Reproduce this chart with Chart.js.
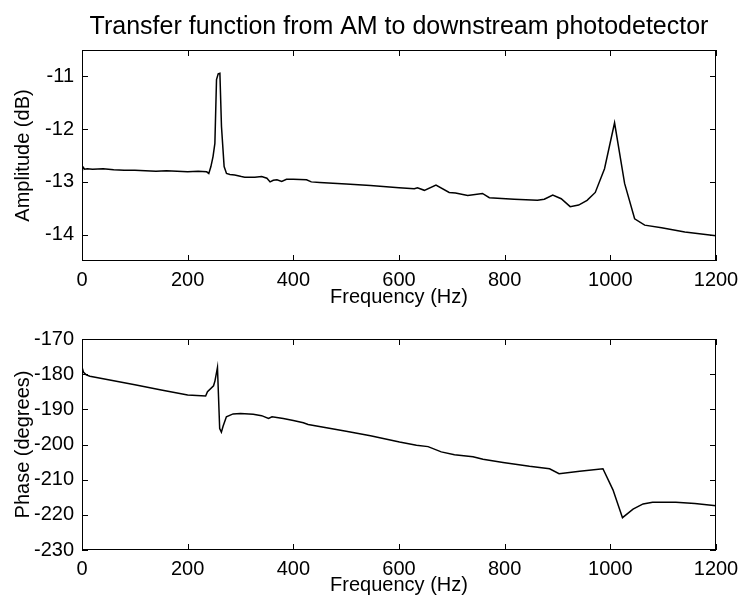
<!DOCTYPE html>
<html>
<head>
<meta charset="utf-8">
<script src="https://cdn.jsdelivr.net/npm/chart.js@4.4.1/dist/chart.umd.min.js"></script>
<style>
  html, body { margin: 0; padding: 0; background: #fff; }
  canvas { position: absolute; left: 0; }
  #ampChart { top: 0; }
  #phaseChart { top: 310px; }
</style>
</head>
<body>
<canvas id="ampChart" width="739" height="310"></canvas>
<canvas id="phaseChart" width="739" height="287"></canvas>
<script>
// frequency ticks shared by both plots
const xTicks = [0, 200, 400, 600, 800, 1000, 1200];
const ampTicks = [-14, -13, -12, -11];
const phaseTicks = [-230, -220, -210, -200, -190, -180, -170];

// amplitude (dB) vs frequency
const ampFreq = [0, 2, 5, 10, 20, 40, 60, 80, 100, 120, 140, 160, 180, 200, 220, 236, 240, 244, 248, 251.5,
  254.6, 257.8, 261, 264, 269, 273.5, 280, 289, 301.6, 308, 327, 340, 350, 356, 362, 369, 378, 387, 400,
  425, 434, 450, 500, 546, 600, 629, 635, 648, 670, 695, 707, 730, 758, 771, 818, 862, 875, 891, 907, 924,
  940, 956, 971.5, 989, 1008, 1027, 1046, 1065, 1097, 1141, 1200];
const ampDb = [-12.82, -12.72, -12.76, -12.75, -12.76, -12.75, -12.77, -12.78, -12.78, -12.79, -12.8, -12.79,
  -12.8, -12.81, -12.8, -12.81, -12.84, -12.71, -12.52, -12.27, -11.06, -10.95, -10.94, -11.95, -12.71, -12.84,
  -12.86, -12.87, -12.9, -12.91, -12.91, -12.9, -12.93, -13.0, -12.97, -12.96, -12.99, -12.95, -12.95, -12.96,
  -13.0, -13.01, -13.04, -13.07, -13.11, -13.13, -13.11, -13.16, -13.06, -13.2, -13.21, -13.26, -13.22, -13.3,
  -13.33, -13.35, -13.33, -13.25, -13.32, -13.47, -13.44, -13.35, -13.2, -12.75, -11.88, -13.03, -13.7, -13.82,
  -13.87, -13.95, -14.02];

// phase (degrees) vs frequency
const phaseFreq = [0, 3, 8, 15, 50, 100, 150, 200, 234, 237.5, 249, 251.7, 256.4, 260.6, 263.8, 267, 273.3, 286,
  300, 324, 340, 353, 359.7, 381, 400, 419, 428, 500, 546, 601, 633, 655, 680, 705, 740, 759, 797, 847, 885, 903,
  942, 986, 1005, 1023, 1043, 1062, 1080, 1124, 1160, 1200];
const phaseDeg = [-178, -179.5, -180.2, -180.6, -181.6, -183, -184.5, -185.9, -186.2, -185, -183.3, -181.9, -178.1,
  -195.5, -196.5, -194.8, -192.1, -191.3, -191.2, -191.4, -191.8, -192.6, -192.1, -192.6, -193.2, -193.8, -194.3,
  -196.2, -197.5, -199.3, -200.2, -200.6, -202.1, -202.9, -203.5, -204.2, -205.1, -206.2, -206.9, -208.3, -207.6,
  -206.9, -212.9, -220.8, -218.4, -216.9, -216.4, -216.4, -216.8, -217.4];

const FONT = 'Liberation Sans, Arial, Helvetica, sans-serif';

// box round the plot area with ticks pointing inwards on all four sides
const boxTicks = {
  id: 'boxTicks',
  afterDraw(chart) {
    const { ctx, chartArea: a, scales } = chart;
    const len = 6;
    ctx.save();
    ctx.strokeStyle = '#000';
    ctx.lineWidth = 1;
    ctx.strokeRect(a.left + 0.5, a.top + 0.5, a.right - a.left - 1, a.bottom - a.top - 1);
    ctx.beginPath();
    scales.x.ticks.forEach(t => {
      const px = Math.round(scales.x.getPixelForValue(t.value)) + 0.5;
      ctx.moveTo(px, a.bottom); ctx.lineTo(px, a.bottom - len);
      ctx.moveTo(px, a.top); ctx.lineTo(px, a.top + len);
    });
    scales.y.ticks.forEach(t => {
      const py = Math.round(scales.y.getPixelForValue(t.value)) + 0.5;
      ctx.moveTo(a.left, py); ctx.lineTo(a.left + len, py);
      ctx.moveTo(a.right, py); ctx.lineTo(a.right - len, py);
    });
    ctx.stroke();
    ctx.restore();
  }
};

function makeChart(id, freq, vals, yMin, yMax, yTicks, yLabel, opts) {
  const pts = freq.map((f, i) => ({ x: f, y: vals[i] }));
  return new Chart(document.getElementById(id), {
    type: 'line',
    data: {
      datasets: [{
        data: pts,
        borderColor: '#000',
        borderWidth: 1.5,
        pointRadius: 0,
        tension: 0,
        fill: false
      }]
    },
    options: {
      responsive: false,
      animation: false,
      events: [],
      layout: { padding: { left: 0, right: 23, top: opts.top, bottom: 0 } },
      plugins: {
        legend: { display: false },
        tooltip: { enabled: false },
        title: opts.title ? {
          display: true,
          fullSize: false,
          text: opts.title,
          color: '#000',
          font: { family: FONT, size: 25, weight: 'normal' },
          padding: { top: 12, bottom: 8 }
        } : { display: false }
      },
      scales: {
        x: {
          type: 'linear',
          min: 0,
          max: 1200,
          grid: { display: false, drawTicks: false },
          border: { display: false },
          afterBuildTicks: s => { s.ticks = xTicks.map(v => ({ value: v })); },
          afterFit: s => { s.height = opts.xHeight; s.paddingLeft = 0; s.paddingRight = 0; },
          ticks: { color: '#000', padding: 7, font: { family: FONT, size: 20 }, callback: v => String(v) },
          title: {
            display: true,
            text: 'Frequency (Hz)',
            color: '#000',
            padding: { top: 0, bottom: opts.titlePad },
            font: { family: FONT, size: 20 }
          }
        },
        y: {
          type: 'linear',
          min: yMin,
          max: yMax,
          grid: { display: false, drawTicks: false },
          border: { display: false },
          afterBuildTicks: s => { s.ticks = yTicks.map(v => ({ value: v })); },
          afterFit: s => { s.width = 82; s.paddingTop = 0; s.paddingBottom = 0; },
          ticks: { color: '#000', padding: 8, font: { family: FONT, size: 20 }, callback: v => String(v) },
          title: {
            display: true,
            text: yLabel,
            color: '#000',
            padding: { top: 11, bottom: 0 },
            font: { family: FONT, size: 20 }
          }
        }
      }
    },
    plugins: [boxTicks]
  });
}

makeChart('ampChart', ampFreq, ampDb, -14.5, -10.5, ampTicks, 'Amplitude (dB)',
  { top: 0, xHeight: 49, titlePad: 1, title: 'Transfer function from AM to downstream photodetector' });
makeChart('phaseChart', phaseFreq, phaseDeg, -230, -170, phaseTicks, 'Phase (degrees)',
  { top: 29, xHeight: 47, titlePad: 0 });
</script>
</body>
</html>
